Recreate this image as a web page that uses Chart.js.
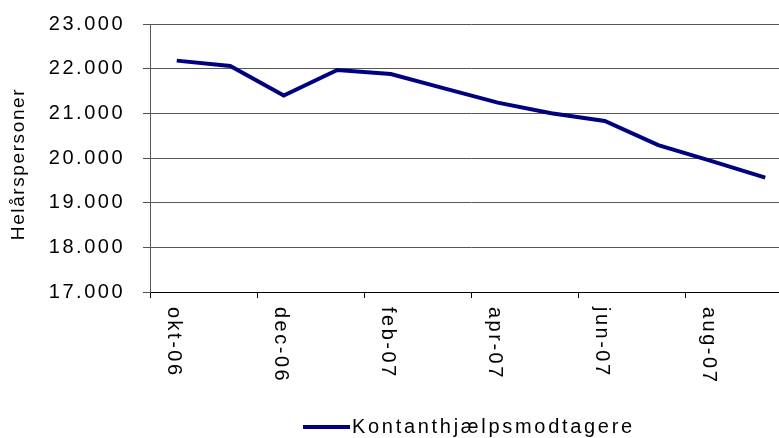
<!DOCTYPE html>
<html>
<head>
<meta charset="utf-8">
<script src="https://cdn.jsdelivr.net/npm/chart.js@4/dist/chart.umd.min.js"></script>
<style>
  html, body { margin: 0; padding: 0; background: #fff; overflow: hidden; }
  #wrap { width: 792px; height: 438px; }
</style>
</head>
<body>
<div id="wrap"><canvas id="chart" width="792" height="438"></canvas></div>
<script>
// data
var months = ["okt-06", "nov-06", "dec-06", "jan-07", "feb-07", "mar-07", "apr-07", "maj-07", "jun-07", "jul-07", "aug-07", "sep-07"];
var helaarspersoner = [22180, 22060, 21400, 21970, 21880, 21560, 21240, 21000, 20830, 20290, 19930, 19560];
var seriesName = "Kontanthjælpsmodtagere";
var axisTitle = "Helårspersoner";
var yMin = 17000, yMax = 23000, yStep = 1000;

var FONT = "'Liberation Sans', Arial, sans-serif";
var LINE_COLOR = "#000080";
var SPACING = '2.5px';

function fmt(v) {
    return String(v).replace(/\B(?=(\d{3})+(?!\d))/g, ".");
}

// letter spacing + rotated x labels + y title + legend
var extras = {
    id: 'extras',
    beforeLayout: function (chart) { chart.ctx.letterSpacing = SPACING; },
    beforeDraw: function (chart) { chart.ctx.letterSpacing = SPACING; },
    afterDraw: function (chart) {
        var ctx = chart.ctx;
        var xs = chart.scales.x;
        ctx.save();
        ctx.fillStyle = '#000';
        ctx.font = '20px ' + FONT;
        ctx.letterSpacing = SPACING;
        ctx.textAlign = 'left';
        ctx.textBaseline = 'middle';
        for (var i = 0; i < months.length; i += 2) {
            var x = xs.getPixelForValue(i) - 3;
            ctx.save();
            ctx.translate(x, 307);
            ctx.rotate(Math.PI / 2);
            ctx.fillText(months[i], 0, 0);
            ctx.restore();
        }

        // y axis title
        ctx.save();
        ctx.font = '19px ' + FONT;
        ctx.letterSpacing = '1.6px';
        ctx.translate(19, 164);
        ctx.rotate(-Math.PI / 2);
        ctx.textAlign = 'center';
        ctx.fillText(axisTitle, 0, 0);
        ctx.restore();

        // legend
        var ds = chart.data.datasets[0];
        ctx.strokeStyle = ds.borderColor;
        ctx.lineWidth = 4;
        ctx.beginPath();
        ctx.moveTo(303, 427);
        ctx.lineTo(350, 427);
        ctx.stroke();
        ctx.letterSpacing = '2.7px';
        ctx.textAlign = 'left';
        ctx.fillText(ds.label, 352, 427);
        ctx.restore();
    }
};

new Chart(document.getElementById("chart"), {
    type: 'line',
    data: {
        labels: months,
        datasets: [{
            label: seriesName,
            data: helaarspersoner,
            borderColor: LINE_COLOR,
            backgroundColor: LINE_COLOR,
            borderWidth: 4,
            pointRadius: 0,
            tension: 0,
            fill: false
        }]
    },
    options: {
        responsive: false,
        animation: false,
        devicePixelRatio: 1,
        layout: { padding: { top: 24, right: 0, bottom: 0, left: 0 } },
        plugins: {
            legend: { display: false },
            tooltip: { enabled: false }
        },
        scales: {
            x: {
                offset: true,
                afterFit: function (s) { s.height = 146; s.paddingLeft = 0; s.paddingRight = 0; },
                grid: {
                    offset: true,
                    drawOnChartArea: false,
                    tickLength: 6,
                    color: function (c) { return c.index % 2 === 0 ? '#000' : 'rgba(0,0,0,0)'; }
                },
                border: { display: true, color: '#000', width: 1 },
                ticks: {
                    autoSkip: false,
                    maxRotation: 0,
                    callback: function () { return ''; }
                }
            },
            y: {
                min: yMin,
                max: yMax,
                afterFit: function (s) { s.width = 150; s.paddingTop = 0; s.paddingBottom = 0; },
                grid: { color: '#555', tickLength: 7 },
                border: { display: true, color: '#555' },
                ticks: {
                    stepSize: yStep,
                    padding: 18,
                    color: '#000',
                    font: { family: FONT, size: 20 },
                    callback: function (v) { return fmt(v); }
                }
            }
        }
    },
    plugins: [extras]
});
</script>
</body>
</html>
